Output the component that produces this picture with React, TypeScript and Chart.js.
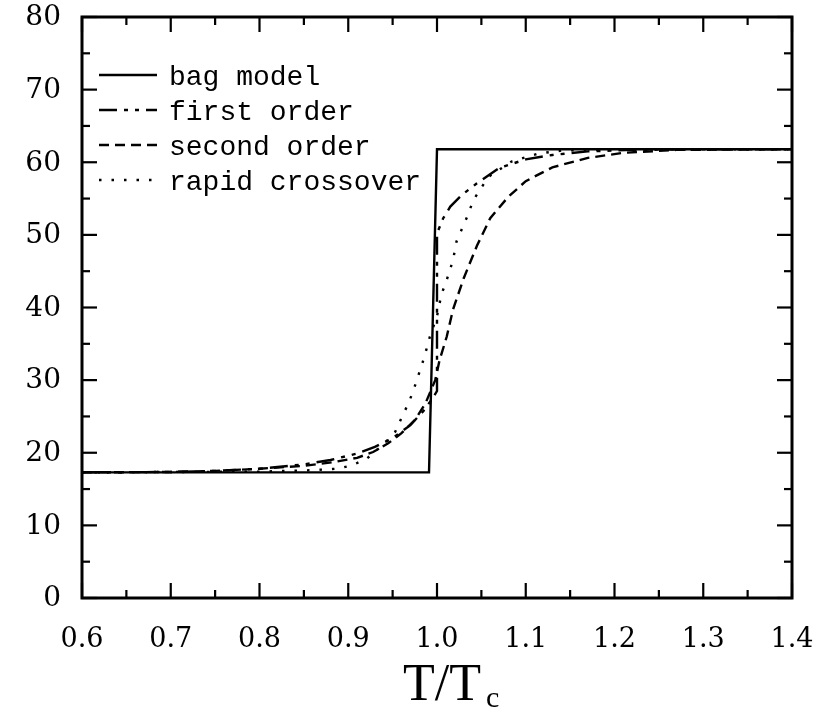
import { useEffect, useRef } from "react";
import { Chart, registerables } from "chart.js";

Chart.register(...registerables);

// Axis ranges and ticks
const X_MIN = 0.6;
const X_MAX = 1.4;
const Y_MIN = 0;
const Y_MAX = 80;
const xMajorTicks = [0.6, 0.7, 0.8, 0.9, 1.0, 1.1, 1.2, 1.3, 1.4];
const xTickLabels = ["0.6", "0.7", "0.8", "0.9", "1.0", "1.1", "1.2", "1.3", "1.4"];
const xMinorTicks = [0.65, 0.75, 0.85, 0.95, 1.05, 1.15, 1.25, 1.35];
const yMajorTicks = [0, 10, 20, 30, 40, 50, 60, 70, 80];
const yTickLabels = ["0", "10", "20", "30", "40", "50", "60", "70", "80"];
const yMinorTicks = [5, 15, 25, 35, 45, 55, 65, 75];

// Series: temperature T/Tc and value
const seriesNames = ["bag model", "first order", "second order", "rapid crossover"];

const bagT = [0.6, 0.991, 1.0, 1.4];
const bagV = [17.3, 17.3, 61.8, 61.8];

const firstT = [0.6, 0.7, 0.75, 0.8, 0.85, 0.88, 0.91, 0.93, 0.95, 0.97, 0.985, 0.995, 1.0,
  1.0, 1.007, 1.015, 1.028, 1.045, 1.07, 1.1, 1.13, 1.17, 1.22, 1.3, 1.4];
const firstV = [17.3, 17.35, 17.5, 17.8, 18.4, 19.0, 19.9, 20.8, 22.0, 23.8, 25.8, 27.5, 28.5,
  50.2, 52.3, 53.9, 55.5, 57.1, 59.2, 60.4, 61.0, 61.5, 61.7, 61.8, 61.8];

const secondT = [0.6, 0.7, 0.75, 0.8, 0.85, 0.883, 0.91, 0.928, 0.945, 0.96, 0.975, 0.987, 0.998,
  1.003, 1.011, 1.018, 1.03, 1.045, 1.06, 1.08, 1.1, 1.13, 1.17, 1.21, 1.27, 1.4];
const secondV = [17.3, 17.35, 17.5, 17.8, 18.2, 18.7, 19.3, 20.1, 21.3, 22.7, 24.5, 26.8, 30.0,
  32.8, 36.0, 39.7, 44.0, 48.5, 52.3, 55.2, 57.4, 59.3, 60.6, 61.3, 61.7, 61.8];

const rapidT = [0.6, 0.8, 0.86, 0.888, 0.905, 0.921, 0.941, 0.953, 0.96, 0.967, 0.973, 0.978,
  0.983, 0.988, 0.992, 1.0, 1.005, 1.011, 1.018, 1.022, 1.034, 1.041, 1.058, 1.084, 1.114, 1.14,
  1.2, 1.4];
const rapidV = [17.3, 17.4, 17.6, 17.8, 18.3, 19.2, 21.3, 22.9, 24.8, 26.6, 28.4, 30.3, 32.1,
  34.2, 36.0, 38.8, 41.8, 43.8, 46.5, 49.1, 52.5, 54.8, 58.0, 60.1, 61.2, 61.6, 61.8, 61.8];

const dashes: number[][] = [[], [18, 7, 4, 7, 4, 7], [10, 6], [2.5, 10]];

const toPoints = (t: number[], v: number[]) => t.map((x, i) => ({ x, y: v[i] }));

const framePlugin = {
  id: "framePlugin",
  afterDatasetsDraw(chart: any) {
    const { ctx, chartArea: a, scales } = chart;
    const xs = scales.x;
    const ys = scales.y;
    ctx.save();
    ctx.strokeStyle = "#000";
    ctx.fillStyle = "#000";
    ctx.setLineDash([]);

    // ticks on all four sides, pointing inward
    ctx.lineWidth = 2.2;
    const seg = (x1: number, y1: number, x2: number, y2: number) => {
      ctx.beginPath();
      ctx.moveTo(x1, y1);
      ctx.lineTo(x2, y2);
      ctx.stroke();
    };
    const xTick = (v: number, len: number) => {
      const p = xs.getPixelForValue(v);
      seg(p, a.bottom, p, a.bottom - len);
      seg(p, a.top, p, a.top + len);
    };
    const yTick = (v: number, len: number) => {
      const p = ys.getPixelForValue(v);
      seg(a.left, p, a.left + len, p);
      seg(a.right, p, a.right - len, p);
    };
    xMajorTicks.forEach((v) => xTick(v, 15));
    xMinorTicks.forEach((v) => xTick(v, 8));
    yMajorTicks.forEach((v) => yTick(v, 15));
    yMinorTicks.forEach((v) => yTick(v, 8));

    // frame
    ctx.lineWidth = 3;
    ctx.strokeRect(a.left, a.top, a.right - a.left, a.bottom - a.top);

    // tick labels
    ctx.font = "28px 'DejaVu Serif'";
    ctx.textAlign = "right";
    ctx.textBaseline = "middle";
    yMajorTicks.forEach((v, i) => {
      ctx.fillText(yTickLabels[i], 61, ys.getPixelForValue(v) + 1);
    });
    ctx.font = "27px 'DejaVu Serif'";
    ctx.textAlign = "center";
    ctx.textBaseline = "alphabetic";
    xMajorTicks.forEach((v, i) => {
      ctx.fillText(xTickLabels[i], xs.getPixelForValue(v), 647);
    });

    // axis title T/Tc
    const cx = xs.getPixelForValue(1.0);
    ctx.font = "52px 'Liberation Serif'";
    ctx.textAlign = "right";
    ctx.fillText("T/T", cx + 44, 700);
    ctx.font = "30px 'Liberation Serif'";
    ctx.textAlign = "left";
    ctx.fillText("c", cx + 49, 707);

    // legend
    ctx.font = "28px 'Liberation Mono'";
    ctx.textAlign = "left";
    ctx.textBaseline = "alphabetic";
    seriesNames.forEach((name, i) => {
      const ly = 75 + i * 35;
      ctx.lineWidth = 2.4;
      ctx.setLineDash(dashes[i]);
      seg(99, ly, 157, ly);
      ctx.setLineDash([]);
      ctx.fillText(name, 169, ly + 10);
    });
    ctx.restore();
  },
};

export default function App() {
  const canvasRef = useRef<HTMLCanvasElement | null>(null);

  useEffect(() => {
    if (!canvasRef.current) return;
    const series = [
      toPoints(bagT, bagV),
      toPoints(firstT, firstV),
      toPoints(secondT, secondV),
      toPoints(rapidT, rapidV),
    ];
    const chart = new Chart(canvasRef.current, {
      type: "scatter",
      data: {
        datasets: series.map((pts, i) => ({
          label: seriesNames[i],
          data: pts,
          showLine: true,
          borderColor: "#000",
          backgroundColor: "#000",
          borderWidth: 2.4,
          borderDash: dashes[i],
          pointRadius: 0,
          tension: 0,
          fill: false,
        })),
      },
      options: {
        responsive: false,
        animation: false,
        devicePixelRatio: 1,
        layout: { padding: { left: 82, right: 33, top: 17, bottom: 113 } },
        plugins: { legend: { display: false }, tooltip: { enabled: false } },
        scales: {
          x: { type: "linear", min: X_MIN, max: X_MAX, display: false },
          y: { type: "linear", min: Y_MIN, max: Y_MAX, display: false },
        },
      },
      plugins: [framePlugin],
    });
    return () => chart.destroy();
  }, []);

  return (
    <div style={{ position: "fixed", left: 0, top: 0, width: 825, height: 711, background: "#fff" }}>
      <canvas ref={canvasRef} width={825} height={711} style={{ display: "block" }} />
    </div>
  );
}
